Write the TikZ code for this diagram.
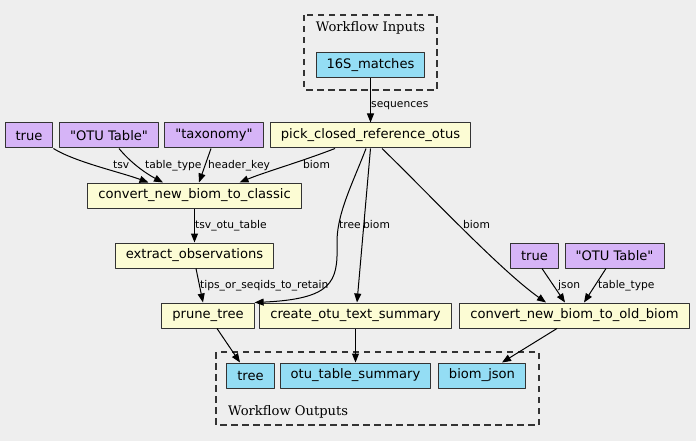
\documentclass[tikz,border=0pt]{standalone}
\usepackage{fontspec}
\setmainfont{DejaVu Serif}
\newfontfamily\boxfont{DejaVu Sans}
\usetikzlibrary{arrows.meta}
\definecolor{bgc}{RGB}{238,238,238}
\definecolor{inc}{RGB}{148,221,244}
\definecolor{stepc}{RGB}{252,252,212}
\definecolor{parc}{RGB}{214,180,247}
\begin{document}
\begin{tikzpicture}[x=1pt, y=-1pt, line join=round,
  box/.style={draw=black!80, line width=1pt, minimum height=25pt, inner xsep=10.5pt, inner ysep=0pt,
    font=\boxfont\fontsize{13.1}{15}\selectfont},
  io/.style={box, fill=inc},
  tool/.style={box, fill=stepc},
  par/.style={box, fill=parc},
  lbl/.style={anchor=base west, inner sep=0pt, font=\boxfont\fontsize{10.7}{12}\selectfont},
  clus/.style={draw=black!80, line width=1.2pt, dash pattern=on 6.5pt off 4.5pt},
  edge/.style={black, line width=1pt, -{Triangle[length=9pt,width=7pt]}}]
  \useasboundingbox[fill=bgc] (0,0) rectangle (696,441);
  % clusters
  \draw[clus] (304,15) rectangle (437,90);
  \node[anchor=base, font=\fontsize{13.1}{15}\selectfont] (inlbl) at (370.5,31.5) {Workflow Inputs};
  \draw[clus] (216,352) rectangle (539,425);
  \node[anchor=base west, inner sep=0pt, font=\fontsize{13.1}{15}\selectfont] (outlbl) at (228,415) {Workflow Outputs};
  % nodes
  \node[io] (s16) at (370.5,65) {16S\_matches};
  \node[tool] (pick) at (370.5,135.5) {pick\_closed\_reference\_otus};
  \node[par] (trueA) at (29,135.5) {true};
  \node[par] (otuA) at (109,135.5) {"OTU Table"};
  \node[par] (taxo) at (214,135.5) {"taxonomy"};
  \node[tool] (convc) at (194.5,195.5) {convert\_new\_biom\_to\_classic};
  \node[tool] (extr) at (194.5,255.5) {extract\_observations};
  \node[tool] (prune) at (208,315.5) {prune\_tree};
  \node[tool] (summ) at (355.5,315.5) {create\_otu\_text\_summary};
  \node[tool] (convo) at (574.5,315.5) {convert\_new\_biom\_to\_old\_biom};
  \node[par] (trueB) at (534.5,255.5) {true};
  \node[par] (otuB) at (614.5,255.5) {"OTU Table"};
  \node[io] (otree) at (250.5,375.5) {tree};
  \node[io] (osum) at (355.5,375.5) {otu\_table\_summary};
  \node[io] (obiom) at (482,375.5) {biom\_json};
  % edges
  \draw[edge] (s16) -- (pick);
  \node[lbl] (l1) at (371,108) {sequences};
  \draw[edge] (trueA.south east) .. controls (75,162) and (120,172) .. ([xshift=-46pt]convc.north);
  \node[lbl] (l2) at (113,168) {tsv};
  \draw[edge] ([xshift=10pt]otuA.south) .. controls (130,162) and (145,173) .. ([xshift=-31.5pt]convc.north);
  \node[lbl] (l3) at (145,168) {table\_type};
  \draw[edge] ([xshift=-3pt]taxo.south) -- ([xshift=4.5pt]convc.north);
  \node[lbl] (l4) at (208,168) {header\_key};
  \draw[edge] ([xshift=-35.5pt]pick.south) .. controls (300,162) and (265,172) .. ([xshift=45pt]convc.north);
  \node[lbl] (l5) at (303,168) {biom};
  \draw[edge] (convc) -- (extr);
  \node[lbl] (l6) at (195,228) {tsv\_otu\_table};
  \draw[edge] ([xshift=1.5pt]extr.south) -- ([xshift=-5pt]prune.north);
  \node[lbl] (l7) at (200,288) {tips\_or\_seqids\_to\_retain};
  \draw[edge] ([xshift=-4.5pt]pick.south) .. controls (352,185) and (336,215) .. (337,245)
    .. controls (338,282) and (332,299) .. (prune.north east);
  \node[lbl] (l8) at (339,228) {tree};
  \draw[edge] (pick.south) -- ([xshift=1.5pt]summ.north);
  \node[lbl] (l9) at (363,228) {biom};
  \draw[edge] ([xshift=11.5pt]pick.south) .. controls (425,190) and (500,270) .. ([xshift=-28.5pt]convo.north);
  \node[lbl] (l10) at (463,228) {biom};
  \draw[edge] ([xshift=7.5pt]trueB.south) -- ([xshift=-9.5pt]convo.north);
  \node[lbl] (l11) at (558,288) {json};
  \draw[edge] ([xshift=-8.5pt]otuB.south) -- ([xshift=9.5pt]convo.north);
  \node[lbl] (l12) at (598,288) {table\_type};
  \draw[edge] ([xshift=9pt]prune.south) -- ([xshift=-10.5pt]otree.north);
  \draw[edge] (summ) -- (osum);
  \draw[edge] ([xshift=-17.5pt]convo.south) -- ([xshift=20pt]obiom.north);
\end{tikzpicture}
\end{document}
